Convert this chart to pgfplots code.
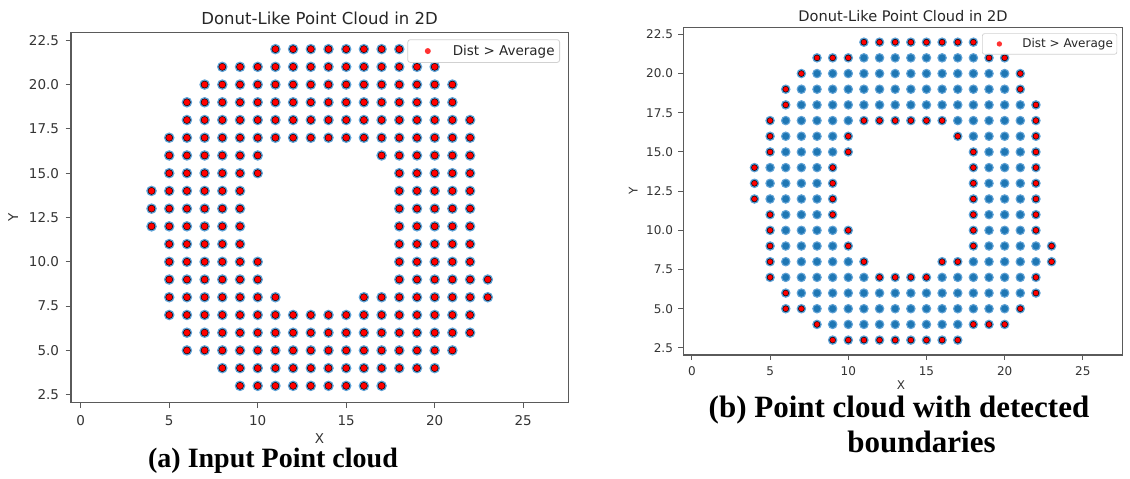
\documentclass[border=0pt]{standalone}
\usepackage{fontspec}
\setmainfont{DejaVu Sans}
\newfontfamily\capfont{Liberation Serif}
\usepackage{pgfplots}
\usepackage{pgfplotstable}
\pgfplotsset{compat=1.18}
\definecolor{mplblue}{HTML}{1F77B4}
\definecolor{halo}{HTML}{5FA2D6}
\definecolor{spine}{HTML}{5A5A5A}
\definecolor{txt}{HTML}{333333}

\pgfplotstableread[row sep=\\]{
x y\\
11 22\\ 12 22\\ 13 22\\ 14 22\\ 15 22\\ 16 22\\ 17 22\\ 18 22\\
8 21\\ 9 21\\ 10 21\\ 11 21\\ 12 21\\ 13 21\\ 14 21\\ 15 21\\ 16 21\\ 17 21\\ 18 21\\ 19 21\\ 20 21\\
7 20\\ 8 20\\ 9 20\\ 10 20\\ 11 20\\ 12 20\\ 13 20\\ 14 20\\ 15 20\\ 16 20\\ 17 20\\ 18 20\\ 19 20\\ 20 20\\ 21 20\\
6 19\\ 7 19\\ 8 19\\ 9 19\\ 10 19\\ 11 19\\ 12 19\\ 13 19\\ 14 19\\ 15 19\\ 16 19\\ 17 19\\ 18 19\\ 19 19\\ 20 19\\ 21 19\\
6 18\\ 7 18\\ 8 18\\ 9 18\\ 10 18\\ 11 18\\ 12 18\\ 13 18\\ 14 18\\ 15 18\\ 16 18\\ 17 18\\ 18 18\\ 19 18\\ 20 18\\ 21 18\\ 22 18\\
5 17\\ 6 17\\ 7 17\\ 8 17\\ 9 17\\ 10 17\\ 11 17\\ 12 17\\ 13 17\\ 14 17\\ 15 17\\ 16 17\\ 17 17\\ 18 17\\ 19 17\\ 20 17\\ 21 17\\ 22 17\\
5 16\\ 6 16\\ 7 16\\ 8 16\\ 9 16\\ 10 16\\ 17 16\\ 18 16\\ 19 16\\ 20 16\\ 21 16\\ 22 16\\
5 15\\ 6 15\\ 7 15\\ 8 15\\ 9 15\\ 10 15\\ 18 15\\ 19 15\\ 20 15\\ 21 15\\ 22 15\\
4 14\\ 5 14\\ 6 14\\ 7 14\\ 8 14\\ 9 14\\ 18 14\\ 19 14\\ 20 14\\ 21 14\\ 22 14\\
4 13\\ 5 13\\ 6 13\\ 7 13\\ 8 13\\ 9 13\\ 18 13\\ 19 13\\ 20 13\\ 21 13\\ 22 13\\
4 12\\ 5 12\\ 6 12\\ 7 12\\ 8 12\\ 9 12\\ 18 12\\ 19 12\\ 20 12\\ 21 12\\ 22 12\\
5 11\\ 6 11\\ 7 11\\ 8 11\\ 9 11\\ 18 11\\ 19 11\\ 20 11\\ 21 11\\ 22 11\\
5 10\\ 6 10\\ 7 10\\ 8 10\\ 9 10\\ 10 10\\ 18 10\\ 19 10\\ 20 10\\ 21 10\\ 22 10\\
5 9\\ 6 9\\ 7 9\\ 8 9\\ 9 9\\ 10 9\\ 18 9\\ 19 9\\ 20 9\\ 21 9\\ 22 9\\ 23 9\\
5 8\\ 6 8\\ 7 8\\ 8 8\\ 9 8\\ 10 8\\ 11 8\\ 16 8\\ 17 8\\ 18 8\\ 19 8\\ 20 8\\ 21 8\\ 22 8\\ 23 8\\
5 7\\ 6 7\\ 7 7\\ 8 7\\ 9 7\\ 10 7\\ 11 7\\ 12 7\\ 13 7\\ 14 7\\ 15 7\\ 16 7\\ 17 7\\ 18 7\\ 19 7\\ 20 7\\ 21 7\\ 22 7\\
6 6\\ 7 6\\ 8 6\\ 9 6\\ 10 6\\ 11 6\\ 12 6\\ 13 6\\ 14 6\\ 15 6\\ 16 6\\ 17 6\\ 18 6\\ 19 6\\ 20 6\\ 21 6\\ 22 6\\
6 5\\ 7 5\\ 8 5\\ 9 5\\ 10 5\\ 11 5\\ 12 5\\ 13 5\\ 14 5\\ 15 5\\ 16 5\\ 17 5\\ 18 5\\ 19 5\\ 20 5\\ 21 5\\
8 4\\ 9 4\\ 10 4\\ 11 4\\ 12 4\\ 13 4\\ 14 4\\ 15 4\\ 16 4\\ 17 4\\ 18 4\\ 19 4\\ 20 4\\
9 3\\ 10 3\\ 11 3\\ 12 3\\ 13 3\\ 14 3\\ 15 3\\ 16 3\\ 17 3\\
}\allpts

\pgfplotstableread[row sep=\\]{
x y\\
11 22\\ 12 22\\ 13 22\\ 14 22\\ 15 22\\ 16 22\\ 17 22\\ 18 22\\
8 21\\ 9 21\\ 10 21\\ 19 21\\ 20 21\\
7 20\\ 21 20\\
6 19\\ 21 19\\
6 18\\ 22 18\\
5 17\\ 11 17\\ 12 17\\ 13 17\\ 14 17\\ 15 17\\ 16 17\\ 22 17\\
5 16\\ 10 16\\ 17 16\\ 22 16\\
5 15\\ 10 15\\ 18 15\\ 22 15\\
4 14\\ 9 14\\ 18 14\\ 22 14\\
4 13\\ 9 13\\ 18 13\\ 22 13\\
4 12\\ 9 12\\ 18 12\\ 22 12\\
5 11\\ 9 11\\ 18 11\\ 22 11\\
5 10\\ 10 10\\ 18 10\\ 22 10\\
5 9\\ 10 9\\ 18 9\\ 23 9\\
5 8\\ 11 8\\ 16 8\\ 17 8\\ 23 8\\
5 7\\ 12 7\\ 13 7\\ 14 7\\ 15 7\\ 22 7\\
6 6\\ 22 6\\
6 5\\ 7 5\\ 21 5\\
8 4\\ 18 4\\ 19 4\\ 20 4\\
9 3\\ 10 3\\ 11 3\\ 12 3\\ 13 3\\ 14 3\\ 15 3\\ 16 3\\ 17 3\\
}\bdry

\pgfplotsset{
  mplax/.style={
    anchor=south west, scale only axis,
    xmin=-0.55, xmax=27.55, ymin=2.05, ymax=22.95,
    xtick={0,5,10,15,20,25},
    ytick={2.5,5,7.5,10,12.5,15,17.5,20,22.5},
    tick align=outside, xtick pos=bottom, ytick pos=left,
    axis line style={draw=spine, line width=1.1bp},
    tick style={draw=spine, line width=0.9bp},
    /pgf/number format/assume math mode=true,
    yticklabel style={/pgf/number format/fixed, /pgf/number format/fixed zerofill, /pgf/number format/precision=1},
    ticklabel style={text=txt},
    legend cell align=left,
  }
}

\begin{document}
\begin{tikzpicture}[x=1bp,y=1bp]
\useasboundingbox (0,0) rectangle (1130,479);

% ---------- panel (a)
\begin{axis}[mplax,
  at={(71bp,76.3bp)}, width=497.3bp, height=370.4bp,
  major tick length=5.5bp,
  ticklabel style={font=\fontsize{13.5bp}{15bp}\selectfont},
  xticklabel style={yshift=-4bp},
  yticklabel style={xshift=-3bp},
  legend style={at={(1,1)}, anchor=north east, xshift=-8.3bp, yshift=-7bp,
    draw=black!18, line width=0.8bp, fill=white, fill opacity=0.8, text opacity=1, draw opacity=1,
    rounded corners=2.5bp, inner xsep=4bp, inner ysep=3.5bp,
    font=\fontsize{13.5bp}{15bp}\selectfont, text=black!85,
    nodes={inner xsep=1bp, inner ysep=2bp}},
  legend image code/.code={\path[draw=none,fill=none] (0bp,-3bp) rectangle (40bp,3bp); \fill[red,draw=none] (16bp,0bp) circle (3bp);},
]
\addplot[only marks, mark=*, mark size=4.6bp, mark options={fill=mplblue, draw=halo, line width=1.3bp}, forget plot] table[x=x,y=y] {\allpts};
\addplot[only marks, mark=*, mark size=3.5bp, mark options={fill=red, draw=none}] table[x=x,y=y] {\allpts};
\addlegendentry{Dist > Average}
\end{axis}

% ---------- panel (b)
\begin{axis}[mplax,
  at={(683.3bp,124bp)}, width=439.4bp, height=327.7bp,
  major tick length=4.9bp,
  ticklabel style={font=\fontsize{12bp}{13.5bp}\selectfont},
  xticklabel style={yshift=-3.5bp},
  yticklabel style={xshift=-2bp},
  legend style={at={(1,1)}, anchor=north east, xshift=-5.5bp, yshift=-6bp,
    draw=black!18, line width=0.7bp, fill=white, fill opacity=0.8, text opacity=1, draw opacity=1,
    rounded corners=2.2bp, inner xsep=3bp, inner ysep=3.2bp,
    font=\fontsize{12bp}{13.5bp}\selectfont, text=black!85,
    nodes={inner xsep=1bp, inner ysep=1.8bp}},
  legend image code/.code={\path[draw=none,fill=none] (0bp,-3bp) rectangle (36bp,3bp); \fill[red,draw=none] (14bp,0bp) circle (2.7bp);},
]
\addplot[only marks, mark=*, mark size=4.2bp, mark options={fill=mplblue, draw=halo, line width=1.1bp}, forget plot] table[x=x,y=y] {\allpts};
\addplot[only marks, mark=*, mark size=2.9bp, mark options={fill=red, draw=none}] table[x=x,y=y] {\bdry};
\addlegendentry{Dist > Average}
\end{axis}

% ---------- titles, labels, captions
\node[anchor=base, font=\fontsize{16.5bp}{18bp}\selectfont, text=black!85, inner sep=0] at (319.6,454.7) {Donut-Like Point Cloud in 2D};
\node[anchor=base, font=\fontsize{14.6bp}{16bp}\selectfont, text=black!85, inner sep=0] at (903,457.3) {Donut-Like Point Cloud in 2D};
\node[anchor=base, font=\fontsize{13.5bp}{15bp}\selectfont, text=txt, inner sep=0] at (319.6,35) {X};
\node[anchor=base, font=\fontsize{12bp}{13.5bp}\selectfont, text=txt, inner sep=0] at (901,89.7) {X};
\node[rotate=90, font=\fontsize{13.5bp}{15bp}\selectfont, text=txt, inner sep=0] at (13.3,261.5) {Y};
\node[rotate=90, font=\fontsize{12bp}{13.5bp}\selectfont, text=txt, inner sep=0] at (633.3,287.8) {Y};
\node[anchor=base, font=\capfont\bfseries\fontsize{28bp}{30bp}\selectfont, inner sep=0] at (273,11) {(a) Input Point cloud};
\node[anchor=base, font=\capfont\bfseries\fontsize{31bp}{33bp}\selectfont, inner sep=0] at (899,61) {(b) Point cloud with detected};
\node[anchor=base, font=\capfont\bfseries\fontsize{31bp}{33bp}\selectfont, inner sep=0] at (921.5,26) {boundaries};
\end{tikzpicture}
\end{document}
